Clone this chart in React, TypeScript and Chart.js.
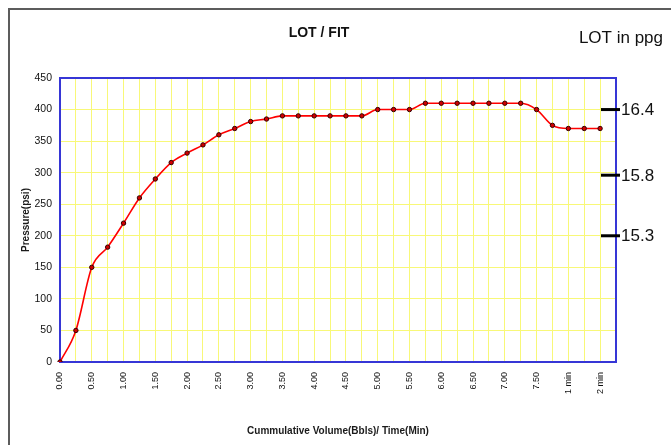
import React, { useEffect, useRef } from 'react';
import { Chart, registerables } from 'chart.js';

Chart.register(...registerables);

const chartTitle = 'LOT / FIT';
const rightTitle = 'LOT in ppg';
const xTitle = 'Cummulative Volume(Bbls)/ Time(Min)';
const yTitle = 'Pressure(psi)';

const categories = [
  '0.00', '0.25', '0.50', '0.75', '1.00', '1.25', '1.50', '1.75',
  '2.00', '2.25', '2.50', '2.75', '3.00', '3.25', '3.50', '3.75',
  '4.00', '4.25', '4.50', '4.75', '5.00', '5.25', '5.50', '5.75',
  '6.00', '6.25', '6.50', '6.75', '7.00', '7.25', '7.50', '7.75',
  '1 min', '1.5 min', '2 min', '',
];

const pressure = [
  0, 50, 150, 182, 220, 260, 290, 316, 331, 344, 360, 370,
  381, 385, 390, 390, 390, 390, 390, 390, 400, 400, 400,
  410, 410, 410, 410, 410, 410, 410, 400, 375, 370, 370, 370,
];

const ppgLabels = ['16.4', '15.8', '15.3'];
const ppgPsi = [400, 296, 200];

const FONT = '"Liberation Sans", Arial, Helvetica, sans-serif';

const decorPlugin = {
  id: 'decor',
  beforeDatasetsDraw(chart: any) {
    const { ctx, chartArea: a } = chart;
    ctx.save();
    ctx.strokeStyle = '#3636d6';
    ctx.lineWidth = 2;
    ctx.strokeRect(a.left, a.top, a.right - a.left, a.bottom - a.top);
    ctx.restore();
  },
  afterDraw(chart: any) {
    const { ctx, chartArea: a } = chart;
    const ys = chart.scales.y;
    ctx.save();
    // outer frame
    ctx.strokeStyle = '#5c5c5c';
    ctx.lineWidth = 2;
    ctx.beginPath();
    ctx.moveTo(9, 445);
    ctx.lineTo(9, 9);
    ctx.lineTo(671, 9);
    ctx.stroke();
    // titles
    ctx.fillStyle = '#111';
    ctx.textBaseline = 'middle';
    ctx.textAlign = 'center';
    ctx.font = `bold 14px ${FONT}`;
    ctx.fillText(chartTitle, 319, 33);
    ctx.textAlign = 'right';
    ctx.font = `17px ${FONT}`;
    ctx.fillText(rightTitle, 663, 38);
    // ppg ticks
    ctx.font = `17px ${FONT}`;
    ctx.textAlign = 'left';
    ppgPsi.forEach((v, i) => {
      const py = ys.getPixelForValue(v);
      ctx.strokeStyle = '#000';
      ctx.lineWidth = 3;
      ctx.beginPath();
      ctx.moveTo(a.right - 15, py);
      ctx.lineTo(a.right + 4, py);
      ctx.stroke();
      ctx.fillText(ppgLabels[i], a.right + 5, py + 1);
    });
    ctx.restore();
  },
};

export default function App() {
  const ref = useRef<HTMLCanvasElement>(null);
  useEffect(() => {
    Chart.defaults.font.family = FONT;
    const chart = new Chart(ref.current as HTMLCanvasElement, {
      type: 'line',
      data: {
        labels: categories,
        datasets: [
          {
            data: pressure,
            borderColor: '#ff0000',
            borderWidth: 1.6,
            cubicInterpolationMode: 'monotone',
            pointRadius: 2.2,
            pointBackgroundColor: '#d00000',
            pointBorderColor: '#300000',
            pointBorderWidth: 1,
            fill: false,
          },
        ],
      },
      options: {
        animation: false,
        responsive: false,
        maintainAspectRatio: false,
        layout: { padding: { left: 0, top: 78, right: 55, bottom: 0 } },
        plugins: {
          legend: { display: false },
          title: { display: false },
          tooltip: { enabled: false },
        },
        scales: {
          x: {
            type: 'category',
            offset: false,
            grid: { color: '#f8f878', lineWidth: 1, drawTicks: false },
            border: { display: false },
            ticks: {
              autoSkip: false,
              minRotation: 90,
              maxRotation: 90,
              padding: 10,
              color: '#111',
              font: { size: 9 },
              callback: (_v: any, i: number) => (i % 2 === 0 ? categories[i] : ''),
            },
            title: {
              display: true,
              text: xTitle,
              color: '#1a1a1a',
              font: { size: 10, weight: 'bold' },
              padding: { top: 0, bottom: 8 },
            },
            afterFit: (s: any) => {
              s.height = 83;
            },
          },
          y: {
            min: 0,
            max: 450,
            grid: { color: '#f8f878', lineWidth: 1, drawTicks: false },
            border: { display: false },
            ticks: { stepSize: 50, padding: 8, color: '#111', font: { size: 10.5 } },
            title: {
              display: true,
              text: yTitle,
              color: '#1a1a1a',
              font: { size: 10, weight: 'bold' },
              padding: { top: 20, bottom: 0 },
            },
            afterFit: (s: any) => {
              s.width = 60;
            },
          },
        },
      } as any,
      plugins: [decorPlugin],
    });
    return () => chart.destroy();
  }, []);
  return (
    <div style={{ position: 'fixed', left: 0, top: 0, width: 671, height: 445, background: '#fff' }}>
      <canvas ref={ref} width={671} height={445} style={{ display: 'block', width: 671, height: 445 }} />
    </div>
  );
}
